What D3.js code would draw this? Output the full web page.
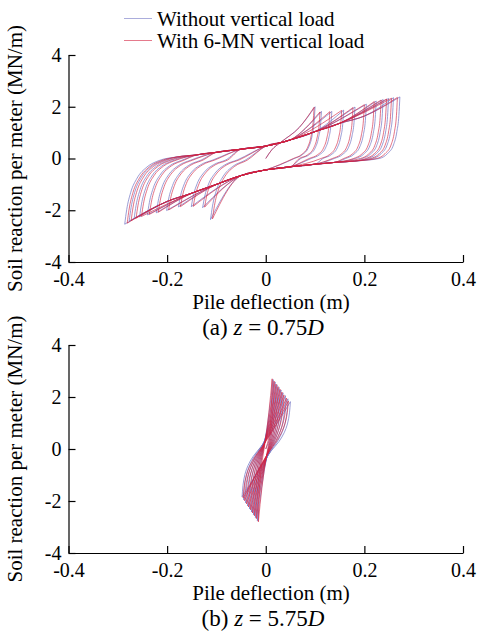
<!DOCTYPE html>
<html><head><meta charset="utf-8">
<script src="https://cdn.jsdelivr.net/npm/d3@7"></script>
<style>
html,body{margin:0;padding:0;background:#fff;}
svg{display:block;font-family:"Liberation Serif","Times New Roman",serif;}
</style></head><body>
<svg id="chart" width="477" height="632"></svg>
<script>
// ---------- data ----------
const xTicks = [-0.4, -0.2, 0, 0.2, 0.4];
const yTicks = [-4, -2, 0, 2, 4];
const seriesNames = ["Without vertical load", "With 6-MN vertical load"];
const seriesColors = ["#7377c4", "#d3223f"];

// (a) z = 0.75D : peak points of each cycle
const aPosX_wo = [0.100, 0.113, 0.134, 0.158, 0.181, 0.204, 0.224, 0.238, 0.249, 0.259, 0.272];
const aPosY_wo = [2.00, 1.82, 1.82, 1.87, 1.99, 2.10, 2.22, 2.28, 2.32, 2.35, 2.38];
const aNegX_wo = [-0.112, -0.128, -0.151, -0.177, -0.201, -0.222, -0.240, -0.256, -0.267, -0.277, -0.286];
const aNegY_wo = [-2.36, -1.90, -1.86, -1.87, -2.01, -2.10, -2.18, -2.26, -2.33, -2.42, -2.54];
const aPosX_w6 = [0.098, 0.110, 0.130, 0.154, 0.177, 0.200, 0.220, 0.234, 0.245, 0.255, 0.267];
const aPosY_w6 = [1.98, 1.80, 1.81, 1.86, 1.97, 2.08, 2.20, 2.26, 2.30, 2.33, 2.36];
const aNegX_w6 = [-0.108, -0.124, -0.147, -0.173, -0.197, -0.218, -0.236, -0.252, -0.263, -0.273, -0.281];
const aNegY_w6 = [-2.33, -1.88, -1.85, -1.86, -1.99, -2.08, -2.16, -2.24, -2.31, -2.40, -2.50];
// (a) first loading path from the origin
const aInitial = [[0, 0], [0.012, 0.33], [0.030, 0.62], [0.068, 1.20]];
// (a) common reloading / unloading paths
const aReloadPath = [[-0.22, 0.00], [-0.18, 0.06], [-0.14, 0.14], [-0.10, 0.24], [-0.05, 0.36], [0, 0.48],
                     [0.05, 0.72], [0.10, 1.04], [0.15, 1.36], [0.20, 1.64], [0.24, 1.84]];
const aUnloadPath = [[0.22, -0.06], [0.18, -0.10], [0.14, -0.15], [0.10, -0.22], [0.05, -0.32], [0, -0.44],
                     [-0.05, -0.66], [-0.10, -1.00], [-0.15, -1.34], [-0.20, -1.66], [-0.24, -1.88]];
// (a) reversal shapes next to a peak: [offset in m, share of peak reaction]
const aUnloadTurn = [[0, 1], [-0.002, 0.70], [-0.006, 0.44], [-0.013, 0.22], [-0.025, 0.08], [-0.042, 0.0]];
const aReloadTurn = [[0, 1], [0.004, 0.78], [0.012, 0.52], [0.025, 0.30], [0.045, 0.13], [0.070, 0.03]];

// (b) z = 5.75D : peak points of each cycle
const bPosX_wo = [0.015, 0.019, 0.023, 0.027, 0.031, 0.035, 0.040, 0.045, 0.050];
const bPosY_wo = [2.67, 2.58, 2.47, 2.37, 2.27, 2.16, 2.05, 1.93, 1.82];
const bNegX_wo = [-0.017, -0.021, -0.025, -0.029, -0.033, -0.037, -0.041, -0.045, -0.048];
const bNegY_wo = [-2.76, -2.64, -2.53, -2.42, -2.30, -2.19, -2.07, -1.95, -1.84];
const bPosX_w6 = [0.013, 0.017, 0.021, 0.025, 0.029, 0.033, 0.037, 0.042, 0.046];
const bPosY_w6 = [2.70, 2.61, 2.50, 2.40, 2.30, 2.19, 2.08, 1.96, 1.85];
const bNegX_w6 = [-0.015, -0.019, -0.023, -0.027, -0.031, -0.035, -0.039, -0.043, -0.046];
const bNegY_w6 = [-2.80, -2.68, -2.57, -2.46, -2.34, -2.23, -2.11, -1.99, -1.88];
// (b) loop shape on the way to a peak: [share of peak deflection, share of peak reaction]
const bShape_wo = [[0.20, -0.05], [0.54, 0.16], [0.88, 0.53]];
const bShape_w6 = [[0.15, -0.05], [0.48, 0.16], [0.85, 0.53]];

// ---------- layout ----------
const FONT = '"Liberation Serif","Times New Roman",serif';
const svg = d3.select("#chart");
const x = d3.scaleLinear().domain([-0.4, 0.4]).range([68.5, 463]);
const yA = d3.scaleLinear().domain([-4, 4]).range([262, 55]);
const yB = d3.scaleLinear().domain([-4, 4]).range([553, 345]);
const fmt = d => String(d);

function drawAxes(y) {
  const gx = svg.append("g").attr("transform", `translate(0,${y(-4)})`)
    .call(d3.axisBottom(x).tickValues(xTicks).tickSizeInner(-7).tickSizeOuter(0).tickPadding(9.5).tickFormat(fmt));
  const gy = svg.append("g").attr("transform", `translate(${x(-0.4)},0)`)
    .call(d3.axisLeft(y).tickValues(yTicks).tickSizeInner(-7).tickSizeOuter(0).tickPadding(7).tickFormat(fmt));
  [gx, gy].forEach(g => {
    g.attr("font-family", FONT).attr("font-size", 20);
    g.selectAll("path,line").attr("stroke", "#000").attr("stroke-width", 1.2);
    g.selectAll("text").attr("fill", "#000").style("font-size", "20px").style("font-family", FONT);
  });
}

function axisTitles(y, tag, depth) {
  const base = y(-4);
  svg.append("text").attr("x", 271).attr("y", base + 47).attr("text-anchor", "middle")
    .style("font-size", "21px").text("Pile deflection (m)");
  const c = svg.append("text").attr("x", 263).attr("y", base + 73).attr("text-anchor", "middle")
    .style("font-size", "23px");
  c.append("tspan").text(tag + " ");
  c.append("tspan").style("font-style", "italic").text("z");
  c.append("tspan").text(" = " + depth);
  c.append("tspan").style("font-style", "italic").text("D");
  svg.append("text").attr("transform", `translate(22,${y(0)}) rotate(-90)`).attr("text-anchor", "middle")
    .style("font-size", "21px").text("Soil reaction per meter (MN/m)");
}

const byX = pts => pts.slice().sort((p, q) => p[0] - q[0]);
const byY = pts => pts.slice().sort((p, q) => p[1] - q[1]);

// (a) branches of one loading history
function branchesA(posX, posY, negX, negY) {
  const out = [];
  const n = posX.length;
  out.push(byX([...aInitial, [posX[0], posY[0]]]));
  for (let i = 0; i < n; i++) {
    const xp = posX[i], yp = posY[i], xn = negX[i], yn = negY[i];
    const u = aUnloadTurn.map(([dx, f]) => [xp + dx, yp * f]);
    const uEnd = u[u.length - 1][0];
    const uMid = aUnloadPath.filter(([px]) => px < uEnd - 0.015 && px > xn + 0.055);
    out.push(byX([...u, ...uMid, [xn, yn]]));
    const r = aReloadTurn.map(([dx, f]) => [xn + dx, yn * f]);
    const rEnd = r[r.length - 1][0];
    const last = i === n - 1;
    const limit = last ? 0.001 : posX[i + 1] - 0.055;
    const rMid = aReloadPath.filter(([px]) => px > rEnd + 0.02 && px < limit);
    out.push(byX([...r, ...rMid, ...(last ? [] : [[posX[i + 1], posY[i + 1]]])]));
  }
  return out;
}

// (b) branches of one loading history
function branchesB(posX, posY, negX, negY, shape) {
  const out = [];
  const n = posX.length;
  const toPos = (xp, yp, yn) => shape.map(([fx, fy]) => [xp * fx, fy >= 0 ? yp * fy : -yn * fy]);
  const toNeg = (xn, yn, yp) => shape.map(([fx, fy]) => [xn * fx, fy >= 0 ? yn * fy : -yp * fy]);
  out.push(byY([[0, 0], ...toPos(posX[0], posY[0], negY[0]).slice(1), [posX[0], posY[0]]]));
  for (let i = 0; i < n; i++) {
    out.push(byY([[posX[i], posY[i]], ...toNeg(negX[i], negY[i], posY[i]), [negX[i], negY[i]]]));
    if (i < n - 1) {
      out.push(byY([[negX[i], negY[i]], ...toPos(posX[i + 1], posY[i + 1], negY[i]), [posX[i + 1], posY[i + 1]]]));
    } else {
      out.push(byY([[negX[i], negY[i]], toPos(posX[i], posY[i], negY[i])[0]]));
    }
  }
  return out;
}

function drawSeries(branches, y, color, opacity, curve) {
  const line = d3.line().x(d => x(d[0])).y(d => y(d[1])).curve(curve);
  svg.append("g").selectAll("path").data(branches).join("path")
    .attr("d", line).attr("fill", "none").attr("stroke", color)
    .attr("stroke-width", 0.9).attr("stroke-opacity", opacity).attr("stroke-linejoin", "round");
}

// panel (a)
drawSeries(branchesA(aPosX_wo, aPosY_wo, aNegX_wo, aNegY_wo), yA, seriesColors[0], 0.8, d3.curveMonotoneX);
drawSeries(branchesA(aPosX_w6, aPosY_w6, aNegX_w6, aNegY_w6), yA, seriesColors[1], 0.7, d3.curveMonotoneX);
drawAxes(yA);
axisTitles(yA, "(a)", "0.75");

// panel (b)
drawSeries(branchesB(bPosX_wo, bPosY_wo, bNegX_wo, bNegY_wo, bShape_wo), yB, seriesColors[0], 0.8, d3.curveMonotoneY);
drawSeries(branchesB(bPosX_w6, bPosY_w6, bNegX_w6, bNegY_w6, bShape_w6), yB, seriesColors[1], 0.7, d3.curveMonotoneY);
drawAxes(yB);
axisTitles(yB, "(b)", "5.75");

// legend
const legend = svg.append("g");
seriesNames.forEach((name, i) => {
  const ly = [18.5, 40.5][i];
  legend.append("line").attr("x1", 124).attr("x2", 152).attr("y1", ly).attr("y2", ly)
    .attr("stroke", seriesColors[i]).attr("stroke-width", 1).attr("stroke-opacity", 0.6);
  legend.append("text").attr("x", 157).attr("y", ly + 7).style("font-size", "21px").text(name);
});
</script>
</body></html>
